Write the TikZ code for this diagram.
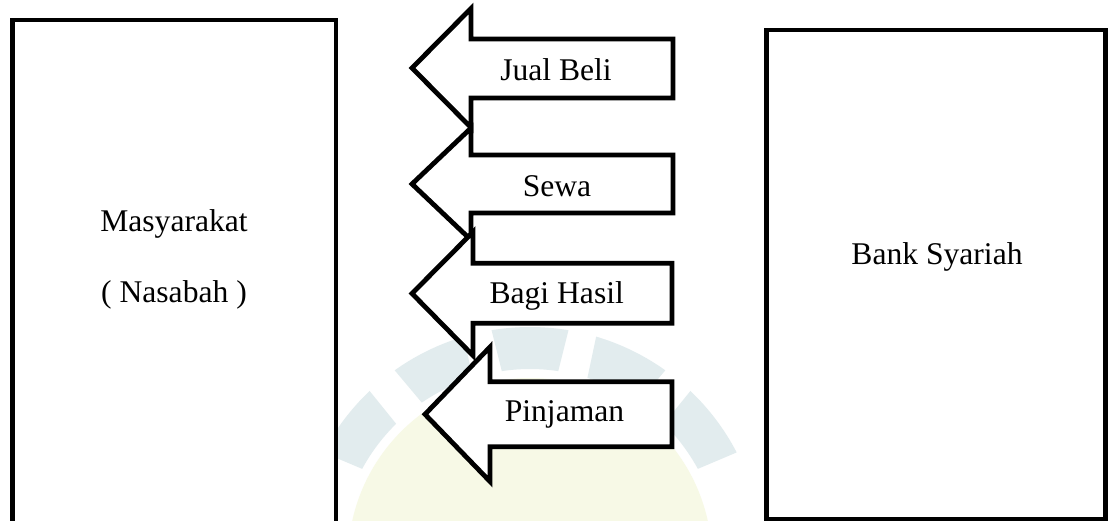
\documentclass[tikz,border=0pt]{standalone}
\usepackage{fontspec}
\setmainfont{Liberation Serif}
\definecolor{wmblue}{RGB}{226,236,238}
\definecolor{wmyellow}{RGB}{247,249,230}
\tikzset{
  box/.style={draw=black, line width=4.8pt, fill=white, rectangle, inner sep=0pt, outer sep=0pt},
  flow/.style={draw=black, line width=4.8pt, fill=white, line join=miter},
  lbl/.style={font=\fontsize{31.6}{38}\selectfont, anchor=base, inner sep=0pt},
  petal/.style={fill=wmblue, draw=none},
}
\begin{document}
\begin{tikzpicture}[x=1pt, y=-1pt]
\useasboundingbox (0,0) rectangle (1108,521);
\clip (0,0) rectangle (1108,521);
\fill[white] (0,0) rectangle (1108,521);
% faint watermark
\begin{scope}[shift={(530,560)}]
  \fill[wmyellow] (0,0) circle[radius=182];
  \foreach \a in {-90,-64,-37,-116,-143} {
    \fill[petal] (\a-8.5:191) arc[start angle=\a-8.5, end angle=\a+8.5, radius=191]
      -- (\a+9.5:233) arc[start angle=\a+9.5, end angle=\a-9.5, radius=233] -- cycle;
  }
\end{scope}
% boxes
\node[box, minimum width=323.5pt, minimum height=525pt, anchor=north west] (masy) at (12.5,20) {};
\node[box, minimum width=338.8pt, minimum height=489pt, anchor=north west] (bank) at (766.7,30) {};
\node[lbl] (tmasy) at (174,232) {Masyarakat};
\node[lbl] (tnas) at (174,302) {( Nasabah )};
\node[lbl] (tbank) at (937,265) {Bank Syariah};
% arrows
\draw[flow] (412,68) -- (471,8.5) -- (471,39) -- (673,39) -- (673,98) -- (471,98) -- (471,127.5) -- cycle;
\node[lbl] (tjual) at (556,80.7) {Jual Beli};
\draw[flow] (412,184) -- (471,128) -- (471,155) -- (673,155) -- (673,213) -- (471,213) -- (471,240) -- cycle;
\node[lbl] (tsewa) at (557,196.7) {Sewa};
\draw[flow] (412,293.5) -- (473,232) -- (473,263.3) -- (672,263.3) -- (672,323.3) -- (473,323.3) -- (473,355.5) -- cycle;
\node[lbl] (tbagi) at (556.7,303.3) {Bagi Hasil};
\draw[flow] (425,414.3) -- (490,347) -- (490,381.7) -- (672,381.7) -- (672,446.7) -- (490,446.7) -- (490,481.5) -- cycle;
\node[lbl] (tpinj) at (564.5,421.7) {Pinjaman};
\end{tikzpicture}
\end{document}
